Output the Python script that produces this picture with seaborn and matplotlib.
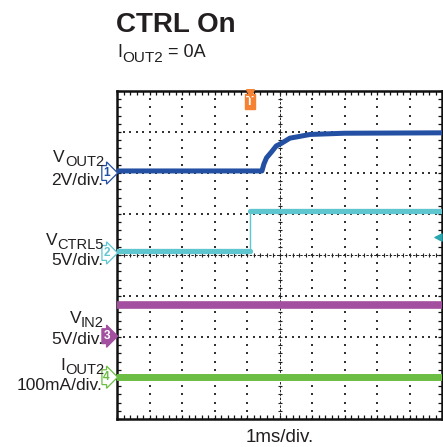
import numpy as np
import pandas as pd
import matplotlib
matplotlib.use("Agg")
import matplotlib.pyplot as plt
import matplotlib.transforms as mtrans
import seaborn as sns

sns.set_theme(style="white")
plt.rcParams['font.family'] = ['Liberation Sans', 'DejaVu Sans']

# ---------------- data ----------------
# time axis in ms (1 ms/div, 10 divisions)
vout2_t = [0.0, 4.46, 4.52, 4.60, 4.76, 4.90, 5.05, 5.32, 5.60, 5.94, 7.00, 10.0]
vout2_v = [0.10, 0.10, 0.44, 0.74, 1.04, 1.32, 1.44, 1.70, 1.78, 1.88, 1.94, 1.96]  # V
vctrl5_t = [0.0, 4.09, 4.09, 10.0]
vctrl5_v = [0.25, 0.25, 5.10, 5.10]   # V
vin2_t = [0.0, 10.0]
vin2_v = [3.80, 3.80]                 # V
iout2_t = [0.0, 10.0]
iout2_v = [0.0, 0.0]                  # mA

# channel scale (units/div) and ground offset (div from bottom)
ch_scale = {"VOUT2": 2.0, "VCTRL5": 5.0, "VIN2": 5.0, "IOUT2": 100.0}
ch_offset = {"VOUT2": 6.0, "VCTRL5": 4.05, "VIN2": 2.02, "IOUT2": 1.02}
ch_color = {"VOUT2": "#2350a2", "VCTRL5": "#5fc6d0", "VIN2": "#a2509f", "IOUT2": "#6bbd43"}
ch_num = {"VOUT2": "1", "VCTRL5": "2", "VIN2": "3", "IOUT2": "4"}
trig_level_v = 1.95  # V on VCTRL5

W, H = 443, 447
TXT = "#231f20"

fig = plt.figure(figsize=(W / 100, H / 100), dpi=100)
ax = fig.add_axes([117 / W, 28 / H, 325 / W, 328 / H])
ax.set_xlim(0, 10)
ax.set_ylim(0, 8)


def to_div(name, vals):
    return [ch_offset[name] + v / ch_scale[name] for v in vals]


# ---------------- graticule ----------------
minor_x = np.arange(0, 10.001, 0.2)
minor_y = np.arange(0, 8.001, 0.2)
for gx in range(1, 10):
    if gx == 5:
        continue
    ax.scatter(np.full_like(minor_y, gx), minor_y, s=1.3, marker='s', lw=0, color='#333', zorder=1)
for gy in range(1, 8):
    if gy == 4:
        continue
    ax.scatter(minor_x, np.full_like(minor_x, gy), s=1.3, marker='s', lw=0, color='#333', zorder=1)
# centre cross with minor ticks
ax.axvline(5, color='#222', lw=0.7, ls=(0, (2.5, 1.5)), zorder=1)
ax.axhline(4, color='#222', lw=0.7, ls=(0, (2.5, 1.5)), zorder=1)
ax.scatter(np.full_like(minor_y, 5), minor_y, s=12, marker='_', lw=0.8, color='#222', zorder=1)
ax.scatter(minor_x, np.full_like(minor_x, 4), s=12, marker='|', lw=0.8, color='#222', zorder=1)

# ---------------- traces ----------------
df1 = pd.DataFrame({"t": vout2_t, "y": to_div("VOUT2", vout2_v)})
sns.lineplot(data=df1, x="t", y="y", ax=ax, color=ch_color["VOUT2"], lw=3.6,
             estimator=None, sort=False, zorder=3)

ct = vctrl5_t
cy = to_div("VCTRL5", vctrl5_v)
df2a = pd.DataFrame({"t": ct[0:2], "y": cy[0:2]})
df2b = pd.DataFrame({"t": ct[1:3], "y": cy[1:3]})
df2c = pd.DataFrame({"t": ct[2:4], "y": cy[2:4]})
for d, lw in ((df2a, 3.8), (df2b, 1.0), (df2c, 3.8)):
    sns.lineplot(data=d, x="t", y="y", ax=ax, color=ch_color["VCTRL5"], lw=lw,
                 estimator=None, sort=False, zorder=3)

df3 = pd.DataFrame({"t": vin2_t, "y": to_div("VIN2", vin2_v)})
sns.lineplot(data=df3, x="t", y="y", ax=ax, color=ch_color["VIN2"], lw=5.5,
             estimator=None, sort=False, zorder=3)
df4 = pd.DataFrame({"t": iout2_t, "y": to_div("IOUT2", iout2_v)})
sns.lineplot(data=df4, x="t", y="y", ax=ax, color=ch_color["IOUT2"], lw=5.0,
             estimator=None, sort=False, zorder=3)

# ---------------- frame ----------------
for sp in ax.spines.values():
    sp.set_visible(True)
    sp.set_color('#111')
    sp.set_linewidth(1.8)
ax.set_xticks(range(0, 11))
ax.set_yticks(range(0, 9))
ax.set_xticks(minor_x, minor=True)
ax.set_yticks(minor_y, minor=True)
ax.tick_params(which='both', direction='in', length=3.0, width=0.9, color='#111',
               top=True, right=True, bottom=True, left=True,
               labelbottom=False, labelleft=False)
ax.set_xlabel("")
ax.set_ylabel("")

# ---------------- channel markers ----------------
btrans = mtrans.blended_transform_factory(ax.transAxes, ax.transData)
for name in ["VOUT2", "VCTRL5", "VIN2", "IOUT2"]:
    c = ch_color[name]
    filled = name == "VIN2"
    ax.text(-0.022, ch_offset[name], ch_num[name], transform=btrans, ha='right', va='center',
            fontsize=8.5, color='white' if filled else c, fontweight='bold', clip_on=False,
            bbox=dict(boxstyle='rarrow,pad=0.12', fc=c if filled else 'white', ec=c, lw=0.9),
            zorder=5)

# trigger marker (time position = VCTRL5 step)
ax.text(vctrl5_t[1], 7.74, "T", ha='center', va='center', fontsize=9, color='white',
        fontweight='bold', bbox=dict(boxstyle='square,pad=0.12', fc='#f58232', ec='#f58232'),
        zorder=5)
ax.scatter([vctrl5_t[1]], [7.94], marker='v', s=30, color='#f58232', zorder=5, clip_on=False)
# trigger level marker on right edge
ax.scatter([9.88], [ch_offset["VCTRL5"] + trig_level_v / ch_scale["VCTRL5"]], marker='<', s=26,
           color='#2aa7b0', zorder=5)

# ---------------- text ----------------
renderer = fig.canvas.get_renderer()


def rich(parts, x, y, ha='left', weight='normal'):
    """parts: list of (text, fontsize, dy_px). x, y in pixel coords from top-left (baseline)."""
    widths = []
    for s, fs, dy in parts:
        t = fig.text(0, 0, s, fontsize=fs, fontweight=weight)
        widths.append(t.get_window_extent(renderer).width)
        t.remove()
    total = sum(widths)
    x0 = x - total if ha == 'right' else (x - total / 2 if ha == 'center' else x)
    for (s, fs, dy), w in zip(parts, widths):
        fig.text(x0 / W, 1 - (y + dy) / H, s, fontsize=fs, va='baseline', ha='left',
                 color=TXT, fontweight=weight)
        x0 += w


rich([("CTRL On", 20, 0)], 116, 32, weight='bold')
rich([("I", 13, 0), ("OUT2", 11, 5), (" = 0A", 13, 0)], 117, 57)

MAIN, SUB = 12.5, 10.5
rich([("V", MAIN, 0), ("OUT2", SUB, 4)], 104, 162, ha='right')
rich([("2V/div.", MAIN, 0)], 103, 185, ha='right')
rich([("V", MAIN, 0), ("CTRL5", SUB, 4)], 104, 245, ha='right')
rich([("5V/div.", MAIN, 0)], 103, 265, ha='right')
rich([("V", MAIN, 0), ("IN2", SUB, 4)], 104, 323, ha='right')
rich([("5V/div.", MAIN, 0)], 103, 344, ha='right')
rich([("I", MAIN, 0), ("OUT2", SUB, 4)], 104, 370, ha='right')
rich([("100mA/div.", MAIN, 0)], 103, 390, ha='right')
rich([("1ms/div.", 13.5, 0)], 280, 442, ha='center')

fig.savefig("out.png", dpi=100)
